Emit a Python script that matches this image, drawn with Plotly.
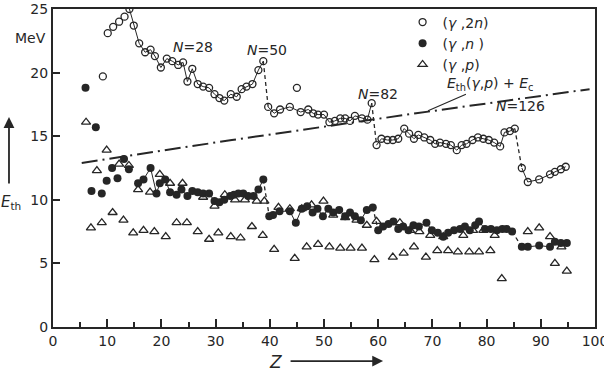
import plotly.graph_objects as go

# ---- data ----
z_2n = [10.1, 11.1, 12.2, 13.2, 14.1, 14.9, 15.9, 17.0, 18.0, 18.8, 19.9, 21.0, 22.0, 23.1, 24.0,
        24.8, 25.7, 26.7, 27.7, 28.8, 29.8, 30.7, 31.6, 32.8, 33.9, 34.8, 35.7, 36.8, 37.9, 38.8,
        39.7, 40.8, 41.9, 43.7, 45.7, 47.1, 48.0, 48.9, 50.0, 51.0, 52.0, 53.0, 53.9, 54.8, 55.7,
        57.0, 58.0, 58.8, 59.7, 60.6, 61.7, 62.7, 63.7, 64.8, 65.7, 66.6, 67.4, 68.5, 69.6, 70.5,
        71.4, 72.5, 73.4, 74.5, 75.4, 76.3, 77.4, 78.4, 79.4, 80.4, 81.4, 82.5, 83.3, 84.3, 85.2,
        86.5, 87.6, 89.7, 91.7, 92.6, 93.7, 94.6]
e_2n = [23.1, 23.6, 24.0, 24.4, 25.0, 23.7, 22.3, 21.6, 21.8, 21.3, 20.4, 21.1, 20.9, 20.6, 20.8,
        19.3, 20.3, 19.1, 18.9, 18.8, 18.3, 18.0, 17.8, 18.3, 18.1, 18.7, 18.9, 19.1, 20.2, 20.9,
        17.3, 16.8, 17.1, 17.3, 16.9, 17.1, 16.8, 16.7, 16.7, 16.1, 16.2, 16.4, 16.4, 16.2, 16.6,
        16.4, 16.3, 17.6, 14.3, 14.8, 14.7, 14.7, 14.8, 15.6, 15.2, 14.8, 15.1, 14.9, 14.7, 14.4,
        14.5, 14.4, 14.3, 13.9, 14.3, 14.4, 14.7, 14.9, 14.8, 14.7, 14.5, 14.2, 15.3, 15.4, 15.6,
        12.5, 11.4, 11.6, 12.0, 12.2, 12.4, 12.6]
z_2n_extra = [9.2, 45.0]
e_2n_extra = [19.7, 18.8]

z_n = [7.1, 9.0, 9.9, 10.9, 11.9, 13.1, 14.0, 15.7, 16.7, 18.0, 19.1, 19.7, 20.7, 21.6, 22.8,
       23.7, 24.8, 25.7, 26.7, 27.7, 28.8, 29.8, 30.7, 31.6, 32.7, 33.4, 34.2, 35.1, 36.0, 37.0,
       37.9, 38.8, 39.9, 40.6, 41.8, 43.7, 44.8, 45.9, 46.9, 47.9, 48.8, 49.8, 50.8, 51.7, 52.8,
       53.9, 54.8, 55.7, 56.8, 57.9, 59.0, 60.0, 60.9, 61.9, 62.8, 63.7, 64.6, 65.6, 66.5, 67.5,
       68.9, 69.9, 71.0, 72.0, 72.9, 74.0, 75.1, 76.0, 76.9, 77.9, 78.6, 79.7, 80.8, 81.9, 82.9,
       83.7, 84.7, 86.5, 87.6, 89.7, 91.7, 92.6, 93.7, 94.8]
e_n = [10.7, 10.5, 11.5, 12.5, 11.7, 13.2, 12.4, 11.3, 11.6, 12.5, 10.5, 11.3, 11.6, 10.6, 10.4,
       10.8, 10.3, 10.7, 10.6, 10.5, 10.5, 9.9, 9.8, 10.0, 10.3, 10.4, 10.5, 10.5, 10.3, 10.3,
       10.8, 11.6, 8.7, 8.8, 9.1, 9.1, 8.2, 9.3, 9.5, 9.0, 9.3, 8.7, 9.3, 9.0, 9.2,
       8.7, 9.0, 8.7, 8.4, 9.2, 9.4, 7.6, 7.9, 8.1, 8.3, 7.7, 7.9, 7.6, 8.0, 7.9,
       8.2, 7.6, 7.4, 7.1, 7.4, 7.6, 7.7, 7.9, 7.6, 8.0, 8.3, 7.7, 7.7, 7.6, 7.7,
       7.7, 7.5, 6.3, 6.3, 6.4, 6.3, 6.7, 6.6, 6.6]
z_n_extra = [6.0, 7.9]
e_n_extra = [18.8, 15.7]

z_p = [6.1, 7.0, 8.1, 9.0, 9.9, 11.0, 12.2, 13.0, 14.0, 14.8, 15.7, 16.7, 17.9, 18.7, 19.7,
       20.8, 21.6, 22.8, 23.9, 24.7, 26.7, 27.7, 28.8, 29.8, 30.5, 31.7, 32.8, 33.6, 34.6, 35.4,
       36.7, 37.6, 38.7, 39.0, 40.8, 41.6, 43.7, 44.6, 45.9, 46.8, 47.7, 48.9, 49.9, 51.0, 51.7,
       53.0, 53.9, 54.9, 56.0, 57.0, 57.9, 59.3, 59.7, 62.7, 64.0, 64.7, 65.9, 66.6, 67.6, 68.8,
       69.6, 70.9, 72.0, 72.9, 74.7, 75.7, 76.8, 77.5, 78.6, 79.4, 80.7, 81.5, 82.8, 87.6, 89.7,
       91.7, 92.6, 93.8, 94.8]
e_p = [16.1, 7.8, 12.3, 8.2, 13.9, 9.0, 12.8, 8.4, 12.7, 7.4, 10.8, 7.6, 10.6, 7.5, 12.0,
       7.1, 11.3, 8.2, 11.3, 8.2, 7.5, 10.2, 6.9, 9.5, 7.4, 10.4, 7.1, 10.0, 7.0, 10.0,
       7.9, 9.9, 7.2, 9.9, 6.1, 9.4, 9.3, 5.4, 9.3, 6.3, 9.6, 6.5, 9.9, 6.3, 8.8,
       6.2, 8.6, 6.2, 8.4, 6.2, 8.0, 5.3, 8.3, 5.5, 8.2, 5.8, 7.6, 6.3, 7.5, 5.5,
       7.2, 6.0, 7.1, 6.0, 5.9, 7.2, 5.9, 7.6, 5.9, 7.6, 6.0, 7.2, 3.8, 7.5, 7.8,
       7.1, 5.0, 6.3, 4.4]

z_ec = [5.3, 33.0, 67.0, 99.0]
e_ec = [12.9, 14.7, 16.8, 18.7]

shell_breaks = [39.3, 59.4, 85.8]
x_ticks = [0, 10, 20, 30, 40, 50, 60, 70, 80, 90, 100]
y_ticks = [0, 5, 10, 15, 20, 25]

INK = "#262626"
FONT = "DejaVu Sans"

fig = go.Figure()


def add_connected(zs, es, start_z):
    pts = [(z, e) for z, e in zip(zs, es) if z >= start_z]
    seg = [pts[0]]
    for a, b in zip(pts[:-1], pts[1:]):
        crossing = any(a[0] < br <= b[0] for br in shell_breaks)
        if crossing:
            fig.add_trace(go.Scatter(x=[p[0] for p in seg], y=[p[1] for p in seg], mode="lines",
                                     line=dict(color=INK, width=1), showlegend=False, hoverinfo="skip"))
            fig.add_trace(go.Scatter(x=[a[0], b[0]], y=[a[1], b[1]], mode="lines",
                                     line=dict(color=INK, width=1.3, dash="4px,3px"),
                                     showlegend=False, hoverinfo="skip"))
            seg = [b]
        else:
            seg.append(b)
    fig.add_trace(go.Scatter(x=[p[0] for p in seg], y=[p[1] for p in seg], mode="lines",
                             line=dict(color=INK, width=1), showlegend=False, hoverinfo="skip"))


add_connected(z_2n, e_2n, 14.0)
add_connected(z_n, e_n, 15.5)

fig.add_trace(go.Scatter(x=z_ec, y=e_ec, mode="lines", line=dict(color=INK, width=2, dash="16px,5px,2px,5px"),
                         showlegend=False, hoverinfo="skip"))

fig.add_trace(go.Scatter(x=z_2n + z_2n_extra, y=e_2n + e_2n_extra, mode="markers",
                         name="(<i>γ</i> ,2<i>n</i>)",
                         marker=dict(symbol="circle-open", size=7, color=INK, line=dict(width=1.3, color=INK))))
fig.add_trace(go.Scatter(x=z_n + z_n_extra, y=e_n + e_n_extra, mode="markers",
                         name="(<i>γ</i> ,<i>n</i> )",
                         marker=dict(symbol="circle", size=8, color=INK)))
fig.add_trace(go.Scatter(x=z_p, y=e_p, mode="markers",
                         name="(<i>γ</i> ,<i>p</i>)",
                         marker=dict(symbol="triangle-up-open", size=8, color=INK, line=dict(width=1.3, color=INK))))

annots = [
    dict(x=25.8, y=22.0, text="<i>N</i>=28"),
    dict(x=39.5, y=21.8, text="<i>N</i>=50"),
    dict(x=60.0, y=18.35, text="<i>N</i>=82"),
    dict(x=86.3, y=17.4, text="<i>N</i>=126"),
]
for a in annots:
    fig.add_annotation(x=a["x"], y=a["y"], text=a["text"], showarrow=False,
                       xanchor="center", yanchor="middle",
                       font=dict(family=FONT, size=14, color=INK))

fig.add_annotation(x=69.2, y=17.0, text="<i>E</i><sub>th</sub>(<i>γ</i>,<i>p</i>) + <i>E</i><sub>c</sub>",
                   showarrow=True, arrowhead=0, arrowwidth=1.2, arrowcolor=INK, ax=62, ay=-27,
                   font=dict(family=FONT, size=14, color=INK))

# axis titles
fig.add_annotation(xref="paper", yref="paper", x=-0.0406, y=0.909, text="MeV", showarrow=False,
                   xanchor="center", yanchor="middle", font=dict(family=FONT, size=14, color=INK))
fig.add_annotation(xref="paper", yref="paper", x=-0.0775, y=0.393, text="<i>E</i><sub>th</sub>",
                   xanchor="center", yanchor="middle",
                   showarrow=False, font=dict(family=FONT, size=15, color=INK))
fig.add_annotation(xref="paper", yref="paper", x=-0.0812, y=0.66, text="", showarrow=True,
                   arrowhead=2, arrowsize=1.2, arrowwidth=1.8, arrowcolor=INK, ax=0, ay=68)
fig.add_annotation(xref="paper", yref="paper", x=0.4096, y=-0.110, text="<i>Z</i>", showarrow=False,
                   xanchor="center", yanchor="middle", font=dict(family=FONT, size=17, color=INK))
fig.add_annotation(xref="paper", yref="paper", x=0.609, y=-0.107, text="", showarrow=True,
                   arrowhead=2, arrowsize=1.2, arrowwidth=1.8, arrowcolor=INK, ax=-94, ay=0)

fig.update_xaxes(range=[0, 100], tickvals=x_ticks, ticks="inside", ticklen=8, tickwidth=1.5,
                 tickcolor=INK, showline=True, linecolor=INK, linewidth=2, mirror=True,
                 showgrid=False, zeroline=False, ticklabeloverflow="allow", automargin=False,
                 minor=dict(dtick=5, ticks="inside", ticklen=5, tickwidth=1.5, tickcolor=INK, showgrid=False),
                 tickfont=dict(family=FONT, size=14, color=INK))
fig.update_yaxes(range=[0, 25], tickvals=y_ticks, ticks="inside", ticklen=7, tickwidth=1.5,
                 tickcolor=INK, showline=True, linecolor=INK, linewidth=2, mirror=True,
                 showgrid=False, zeroline=False, automargin=False,
                 tickfont=dict(family=FONT, size=14, color=INK))

fig.update_layout(
    width=604, height=382,
    margin=dict(l=53, r=9, t=9, b=55, autoexpand=False),
    paper_bgcolor="white", plot_bgcolor="white",
    showlegend=True,
    legend=dict(x=0.645, y=1.008, xanchor="left", yanchor="top", bgcolor="rgba(0,0,0,0)",
                font=dict(family=FONT, size=14, color=INK), tracegroupgap=0, itemwidth=30),
)

fig.write_html("out.html")
